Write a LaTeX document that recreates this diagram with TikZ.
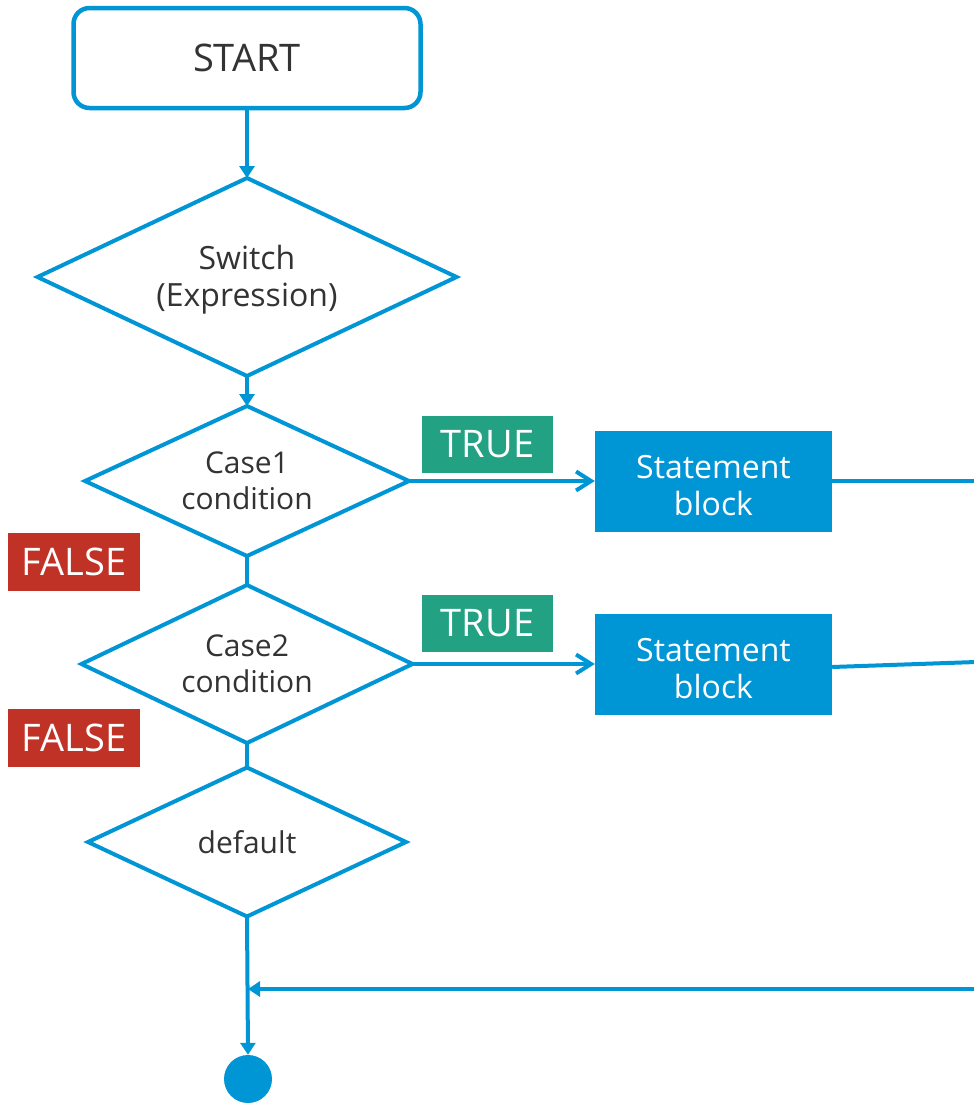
\documentclass[tikz,border=0pt]{standalone}
\usepackage{fontspec}
\setmainfont{Open Sans}
\usetikzlibrary{shapes.geometric,arrows.meta}
\definecolor{flowblue}{RGB}{0,150,214}
\definecolor{truegreen}{RGB}{34,161,131}
\definecolor{falsered}{RGB}{193,50,38}
\definecolor{ink}{RGB}{51,51,51}
% extra head room that lowers a two-line label a little inside its box
\newcommand{\lowerlines}[1]{\rule{0pt}{#1}}

\begin{document}
\begin{tikzpicture}[x=1pt,y=-1pt,
  terminal/.style={rectangle, rounded corners=16pt, draw=flowblue, line width=4.5pt,
    minimum width=347pt, minimum height=100pt, inner sep=0pt, text=ink,
    font=\fontsize{38}{40}\selectfont},
  decision/.style={diamond, aspect=2.1, draw=flowblue, line width=4pt, inner sep=0pt, outer sep=0pt,
    text=ink, align=center, font=\fontsize{30}{36}\selectfont},
  stmt/.style={rectangle, fill=flowblue, text=white, minimum width=237pt,
    minimum height=101pt, inner sep=0pt, align=center, font=\fontsize{32}{37}\selectfont},
  tag/.style={rectangle, text=white, minimum width=131pt, minimum height=57pt,
    inner sep=0pt, font=\fontsize{38}{40}\selectfont},
  flow/.style={draw=flowblue, line width=4pt},
  fillhead/.style={-{Triangle[length=12pt,width=15pt]}},
  openhead/.style={-{Straight Barb[length=15pt,width=19pt]}}
]
% canvas
\fill[white] (0,0) rectangle (974,1103);
\useasboundingbox (0,0) rectangle (974,1103);

% main column
\node[terminal] (start) at (247,58) {START};
\node[decision, minimum width=419pt, minimum height=198pt,
      font=\fontsize{32}{37}\selectfont] (switch) at (247,277) {\lowerlines{30pt}Switch\\(Expression)};
\node[decision, minimum width=324pt, minimum height=150pt] (case1) at (247,481) {Case1\\condition};
\node[decision, minimum width=331pt, minimum height=158pt] (case2) at (247,664) {Case2\\condition};
\node[decision, minimum width=318pt, minimum height=149pt] (dflt) at (247,842) {default};
\node[circle, fill=flowblue, minimum size=48pt, inner sep=0pt] (stop) at (248,1079) {};

% statement blocks
\node[stmt] (s1) at (713.5,481) {\lowerlines{32pt}Statement\\block};
\node[stmt] (s2) at (713.5,664) {\lowerlines{32pt}Statement\\block};

% branch labels
\node[tag, fill=truegreen] (t1) at (487.5,444.5) {TRUE};
\node[tag, fill=truegreen] (t2) at (487.5,623.5) {TRUE};
\node[tag, fill=falsered, minimum width=132pt, minimum height=58pt] (f1) at (74,562) {FALSE};
\node[tag, fill=falsered, minimum width=132pt, minimum height=58pt] (f2) at (74,737.5) {FALSE};

% return path coordinates
\coordinate (r1) at (976,481);
\coordinate (r2) at (976,662);
\coordinate (rb) at (976,989);
\coordinate (join) at (248,989);

% connectors
\draw[flow, fillhead] (start.south) -- (switch.north);
\draw[flow, fillhead] (switch.south) -- (case1.north);
\draw[flow] (case1.south) -- (case2.north);
\draw[flow] (case2.south) -- (dflt.north);
\draw[flow, openhead] (case1.east) -- (s1.west);
\draw[flow, openhead] (case2.east) -- (s2.west);
\draw[flow] (s1.east) -- (r1) -- (rb);
\draw[flow] (s2.east |- 0,667) -- (r2);
\draw[flow, fillhead] (rb) -- (join);
\draw[flow, fillhead] (dflt.south) -- (stop.north);
\end{tikzpicture}
\end{document}
